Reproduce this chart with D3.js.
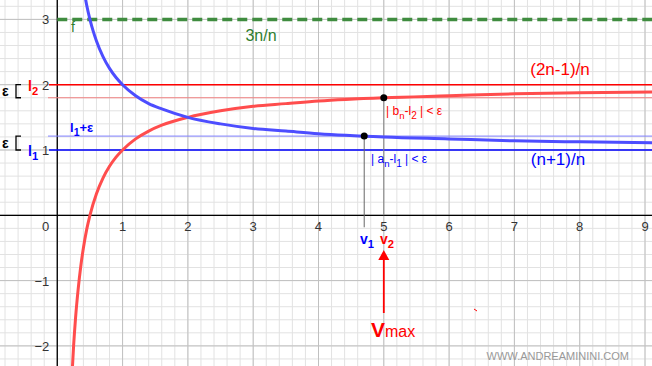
<!DOCTYPE html>
<html>
<head>
<meta charset="utf-8">
<script src="https://cdn.jsdelivr.net/npm/d3@7"></script>
<style>
  html, body { margin: 0; padding: 0; background: #fff; }
  svg { display: block; font-family: "Liberation Sans", Arial, sans-serif; }
</style>
</head>
<body>
<div id="viz"></div>
<script>
const width = 652;
const height = 366;

// visible window of the plane
const xDomain = [-0.877, 9.107];
const yDomain = [3.297, -2.308];

// tick labels
const xTicks = [1, 2, 3, 4, 5, 6, 7, 8, 9];
const yTicks = [3, 2, 1, -1, -2];

// curve (n+1)/n
const blueX = [0.426, 0.45, 0.5, 0.55, 0.6, 0.7, 0.8, 0.9, 1, 1.2, 1.4, 1.6, 2, 2.5, 3, 3.5, 4, 5, 6, 7, 8, 9.2];
const blueY = [3.35, 3.22, 3.0, 2.82, 2.67, 2.43, 2.25, 2.11, 2.0, 1.83, 1.71, 1.63, 1.5, 1.4, 1.33, 1.29, 1.25, 1.2, 1.17, 1.14, 1.125, 1.11];

// curve (2n-1)/n
const redX = [0.22, 0.25, 0.28, 0.32, 0.36, 0.4, 0.45, 0.5, 0.6, 0.7, 0.8, 0.9, 1, 1.2, 1.4, 1.6, 2, 2.5, 3, 3.5, 4, 5, 6, 7, 8, 9.2];
const redY = [-2.55, -2.0, -1.57, -1.13, -0.78, -0.5, -0.22, 0.0, 0.33, 0.57, 0.75, 0.89, 1.0, 1.17, 1.29, 1.38, 1.5, 1.6, 1.67, 1.71, 1.75, 1.8, 1.83, 1.86, 1.875, 1.89];

// horizontal reference lines
const fValue = 3;
const l2 = 2;
const l2Eps = 1.8;
const l1 = 1;
const l1Eps = 1.213;

// points and thresholds
const v1 = 4.7;
const v2 = 5;

const x = d3.scaleLinear().domain(xDomain).range([0, width]);
const y = d3.scaleLinear().domain(yDomain).range([0, height]);

const svg = d3.select('#viz')
  .append('svg')
    .attr('width', width)
    .attr('height', height);

// grid
const grid = svg.append('g');
grid.selectAll('.vminor')
  .data(x.ticks(50))
  .join('line')
    .attr('x1', d => x(d)).attr('x2', d => x(d))
    .attr('y1', 0).attr('y2', height)
    .attr('stroke', '#e2e2e2').attr('stroke-width', 1);
grid.selectAll('.hminor')
  .data(y.ticks(28))
  .join('line')
    .attr('x1', 0).attr('x2', width)
    .attr('y1', d => y(d)).attr('y2', d => y(d))
    .attr('stroke', '#e2e2e2').attr('stroke-width', 1);
grid.selectAll('.vmajor')
  .data(x.ticks(10))
  .join('line')
    .attr('x1', d => x(d)).attr('x2', d => x(d))
    .attr('y1', 0).attr('y2', height)
    .attr('stroke', '#c0c0c0').attr('stroke-width', 1);
grid.selectAll('.hmajor')
  .data(y.ticks(6))
  .join('line')
    .attr('x1', 0).attr('x2', width)
    .attr('y1', d => y(d)).attr('y2', d => y(d))
    .attr('stroke', '#c0c0c0').attr('stroke-width', 1);

// axes
svg.append('line')
  .attr('x1', 0).attr('x2', width)
  .attr('y1', y(0)).attr('y2', y(0))
  .attr('stroke', '#000').attr('stroke-width', 1.3);
svg.append('line')
  .attr('x1', x(0)).attr('x2', x(0))
  .attr('y1', 0).attr('y2', height)
  .attr('stroke', '#000').attr('stroke-width', 1.3);

const tickFmt = d => d < 0 ? '\u2212' + Math.abs(d) : String(d);
svg.append('g')
  .selectAll('text')
  .data(xTicks)
  .join('text')
    .attr('x', d => x(d))
    .attr('y', y(0) + 16)
    .attr('text-anchor', 'middle')
    .attr('font-size', 13)
    .attr('fill', '#333')
    .text(tickFmt);
svg.append('text')
  .attr('x', x(0) - 8)
  .attr('y', y(0) + 16)
  .attr('text-anchor', 'end')
  .attr('font-size', 13)
  .attr('fill', '#333')
  .text('0');
svg.append('g')
  .selectAll('text')
  .data(yTicks)
  .join('text')
    .attr('x', x(0) - 8)
    .attr('y', d => y(d) + 5)
    .attr('text-anchor', 'end')
    .attr('font-size', 13)
    .attr('fill', '#333')
    .text(tickFmt);

// horizontal lines
svg.append('line')
  .attr('x1', x(0)).attr('x2', width)
  .attr('y1', y(fValue)).attr('y2', y(fValue))
  .attr('stroke', '#3f8c3f').attr('stroke-width', 3.5)
  .attr('stroke-dasharray', '10 5');
svg.append('line')
  .attr('x1', 49).attr('x2', width)
  .attr('y1', y(l2)).attr('y2', y(l2))
  .attr('stroke', '#ff0000').attr('stroke-width', 1.5);
svg.append('line')
  .attr('x1', 48).attr('x2', width)
  .attr('y1', y(l2Eps)).attr('y2', y(l2Eps))
  .attr('stroke', '#f08080').attr('stroke-width', 1);
svg.append('line')
  .attr('x1', 49).attr('x2', width)
  .attr('y1', y(l1)).attr('y2', y(l1))
  .attr('stroke', '#0000ff').attr('stroke-width', 1.5);
svg.append('line')
  .attr('x1', 48).attr('x2', width)
  .attr('y1', y(l1Eps)).attr('y2', y(l1Eps))
  .attr('stroke', '#8080ff').attr('stroke-width', 1);

// vertical markers from the points
svg.append('line')
  .attr('x1', x(v1)).attr('x2', x(v1))
  .attr('y1', y(l1Eps)).attr('y2', y(0) + 12)
  .attr('stroke', '#666').attr('stroke-width', 1);
svg.append('line')
  .attr('x1', x(v2)).attr('x2', x(v2))
  .attr('y1', y(l2Eps)).attr('y2', y(0))
  .attr('stroke', '#888').attr('stroke-width', 1);

// curves
const line = d3.line()
  .x(d => x(d[0]))
  .y(d => y(d[1]))
  .curve(d3.curveMonotoneX);
svg.append('path')
  .attr('d', line(d3.zip(redX, redY)))
  .attr('fill', 'none')
  .attr('stroke', '#ff4d4d').attr('stroke-width', 3);
svg.append('path')
  .attr('d', line(d3.zip(blueX, blueY)))
  .attr('fill', 'none')
  .attr('stroke', '#4d4dff').attr('stroke-width', 3);

// points
svg.append('circle')
  .attr('cx', x(v2)).attr('cy', y(l2Eps)).attr('r', 3.5).attr('fill', '#000');
svg.append('circle')
  .attr('cx', x(v1)).attr('cy', y(l1Eps)).attr('r', 3.5).attr('fill', '#000');

// epsilon brackets
const bracket = (top, bottom) => {
  svg.append('path')
    .attr('d', `M21,${y(top)} H16 V${y(bottom)} H21`)
    .attr('fill', 'none')
    .attr('stroke', '#000').attr('stroke-width', 1.3);
  svg.append('text')
    .attr('x', 2)
    .attr('y', (y(top) + y(bottom)) / 2 + 5)
    .attr('font-size', 14)
    .attr('font-weight', 700)
    .text('\u03b5');
};
bracket(l2, l2Eps);
bracket(l1Eps, l1);

// subscripted labels
const subLabel = (px, py, base, sub, color, size, weight) => {
  const t = svg.append('text')
    .attr('x', px).attr('y', py)
    .attr('font-size', size)
    .attr('font-weight', weight)
    .attr('fill', color);
  t.append('tspan').text(base);
  t.append('tspan').attr('dy', 4).attr('font-size', size * 0.8).text(sub);
  return t;
};
subLabel(28, 91, 'l', '2', '#ff0000', 14, 700);
subLabel(28, 156, 'l', '1', '#0000ff', 14, 700);
const le = subLabel(70, 132, 'l', '1', '#0000ff', 13, 700);
le.append('tspan').attr('dy', -4).attr('font-size', 13).text('+\u03b5');
subLabel(360, 244, 'v', '1', '#0000ff', 14, 700);
subLabel(380, 244, 'v', '2', '#ff0000', 14, 700);

const bn = subLabel(386, 115, '| b', 'n', '#ff0000', 12, 400);
bn.append('tspan').attr('dy', -4).attr('font-size', 12).text('-l');
bn.append('tspan').attr('dy', 4).attr('font-size', 10).text('2');
bn.append('tspan').attr('dy', -4).attr('font-size', 12).text(' | < \u03b5');
const an = subLabel(371, 163, '| a', 'n', '#0000ff', 12, 400);
an.append('tspan').attr('dy', -4).attr('font-size', 12).text('-l');
an.append('tspan').attr('dy', 4).attr('font-size', 10).text('1');
an.append('tspan').attr('dy', -4).attr('font-size', 12).text(' | < \u03b5');

// function labels
svg.append('text')
  .attr('x', 71).attr('y', 32)
  .attr('font-size', 14).attr('fill', '#2e7d2e')
  .text('f');
svg.append('text')
  .attr('x', 261).attr('y', 41)
  .attr('text-anchor', 'middle')
  .attr('font-size', 16).attr('fill', '#2e7d2e')
  .text('3n/n');
svg.append('text')
  .attr('x', 560).attr('y', 75)
  .attr('text-anchor', 'middle')
  .attr('font-size', 17).attr('fill', '#ff0000')
  .text('(2n-1)/n');
svg.append('text')
  .attr('x', 558).attr('y', 165)
  .attr('text-anchor', 'middle')
  .attr('font-size', 17).attr('fill', '#0000ff')
  .text('(n+1)/n');

// arrow to v2
svg.append('line')
  .attr('x1', x(v2)).attr('x2', x(v2))
  .attr('y1', 313).attr('y2', 258)
  .attr('stroke', '#ff0000').attr('stroke-width', 1.8);
svg.append('path')
  .attr('d', `M${x(v2)},250 L${x(v2) + 5.5},260 L${x(v2) - 5.5},260 Z`)
  .attr('fill', '#ff0000');
const vm = svg.append('text')
  .attr('x', 371).attr('y', 337)
  .attr('fill', '#ff0000');
vm.append('tspan').attr('font-size', 21).attr('font-weight', 700).text('V');
vm.append('tspan').attr('font-size', 16).text('max');

// small stray mark
svg.append('line')
  .attr('x1', 474).attr('y1', 309).attr('x2', 477).attr('y2', 311)
  .attr('stroke', '#ff0000').attr('stroke-width', 1);

// watermark
svg.append('text')
  .attr('x', 629).attr('y', 360)
  .attr('text-anchor', 'end')
  .attr('font-size', 11).attr('fill', '#999')
  .text('WWW.ANDREAMININI.COM');
</script>
</body>
</html>
